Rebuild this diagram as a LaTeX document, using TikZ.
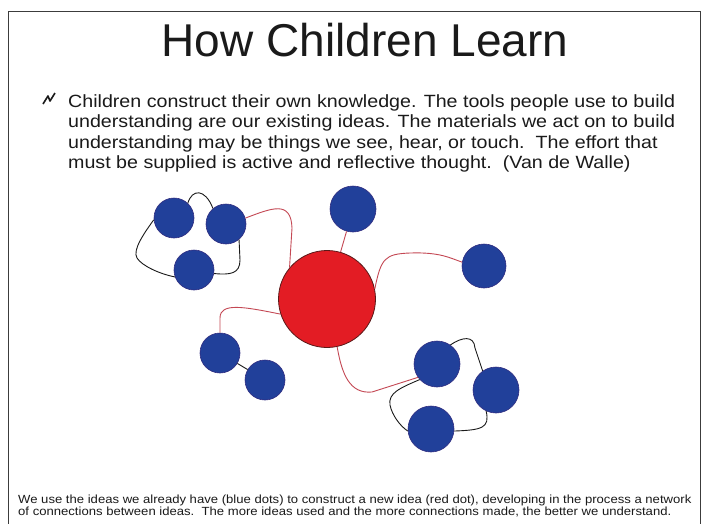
\documentclass[tikz,border=0pt]{standalone}
\usepackage{fontspec}
\setmainfont{Liberation Sans}
\newfontfamily\widefont[FakeStretch=1.11]{Liberation Sans}
\usepackage{xcolor}
\definecolor{ideablue}{RGB}{33,64,154}
\definecolor{idearim}{RGB}{48,44,128}
\definecolor{newred}{RGB}{227,28,36}
\definecolor{newrim}{RGB}{90,25,25}
\definecolor{linkred}{RGB}{196,72,84}
\definecolor{ink}{RGB}{26,26,26}

\begin{document}
\begin{tikzpicture}[x=1pt, y=-1pt,
  idea/.style={circle, draw=idearim, fill=ideablue, line width=0.6pt, inner sep=0pt, minimum size=#1},
  idea/.default=46pt,
  newidea/.style={circle, draw=newrim, fill=newred, line width=0.8pt, inner sep=0pt, minimum size=97pt},
  link/.style={draw=linkred, line width=0.9pt},
  tie/.style={draw=ink, line width=0.9pt}]
  \useasboundingbox (0,0) rectangle (705,523);
  \fill[white] (0,0) rectangle (705,523);
  \draw[ink!85, line width=0.8pt] (8,540) -- (8,11) -- (700,11) -- (700,540);

  \node[anchor=base, text=ink, font=\fontsize{46}{50}\selectfont] (title) at (365,56) {How Children Learn};
  \draw[ink, line width=1.6pt, line join=round] (43,104) -- (48,96) -- (50,101) -- (55,93);
  \node[anchor=base west, align=left, inner sep=0pt, text=ink, font=\widefont\fontsize{17.7}{20.5}\selectfont] (quote) at (68,168.5)
    {Children construct their own knowledge. The tools people use to build\\
     understanding are our existing ideas. The materials we act on to build\\
     understanding may be things we see, hear, or touch.\ \ The effort that\\
     must be supplied is active and reflective thought.\ \ (Van de Walle)};

  \node[idea=40pt] (a1) at (174,218) {};
  \node[idea=40pt] (a2) at (226,224) {};
  \node[idea=40pt] (a3) at (194,270) {};
  \node[idea] (b) at (353,209) {};
  \node[idea=44pt] (c) at (484,266) {};
  \node[idea=40pt] (d1) at (220,353) {};
  \node[idea=40pt] (d2) at (265,380) {};
  \node[idea] (e1) at (437,364) {};
  \node[idea] (e2) at (496,390) {};
  \node[idea] (e3) at (431,429) {};
  \node[newidea] (new) at (327,299) {};

  \draw[link] (a2.17) .. controls (272,208) and (291,200) .. (292,228) -- (new.140);
  \draw[link] (new) -- (b);
  \draw[link] (new.12) .. controls (381,258) and (385,254) .. (410,253) .. controls (440,252) and (450,258) .. (c.170);
  \draw[link] (new.198) .. controls (245,307) and (220,302) .. (220,318) -- (d1.north);
  \draw[link] (new.282) .. controls (342,375) and (350,394) .. (372,392) -- (e1.215);

  \draw[tie] (a1.47) .. controls (192,189) and (205,188) .. (a2.130);
  \draw[tie] (a1.185) .. controls (145,232) and (132,250) .. (137,258) .. controls (142,266) and (160,274) .. (a3.200);
  \draw[tie] (a3.350) .. controls (230,275) and (240,274) .. (240,260) -- (a2.310);
  \draw[tie] (d1) -- (d2);
  \draw[tie] (e1.55) .. controls (462,337) and (474,335) .. (475,348) -- (e2.125);
  \draw[tie] (e2.245) .. controls (490,428) and (482,430) .. (e3.355);
  \draw[tie] (e1.222) .. controls (400,388) and (388,393) .. (390,405) .. controls (392,415) and (400,426) .. (e3.185);

  \node[anchor=base west, align=left, inner sep=0pt, text=ink, font=\widefont\fontsize{11.8}{11.5}\selectfont] (note) at (18,515)
    {We use the ideas we already have (blue dots) to construct a new idea (red dot), developing in the process a network\\
     of connections between ideas.\ \ The more ideas used and the more connections made, the better we understand.};
\end{tikzpicture}
\end{document}
